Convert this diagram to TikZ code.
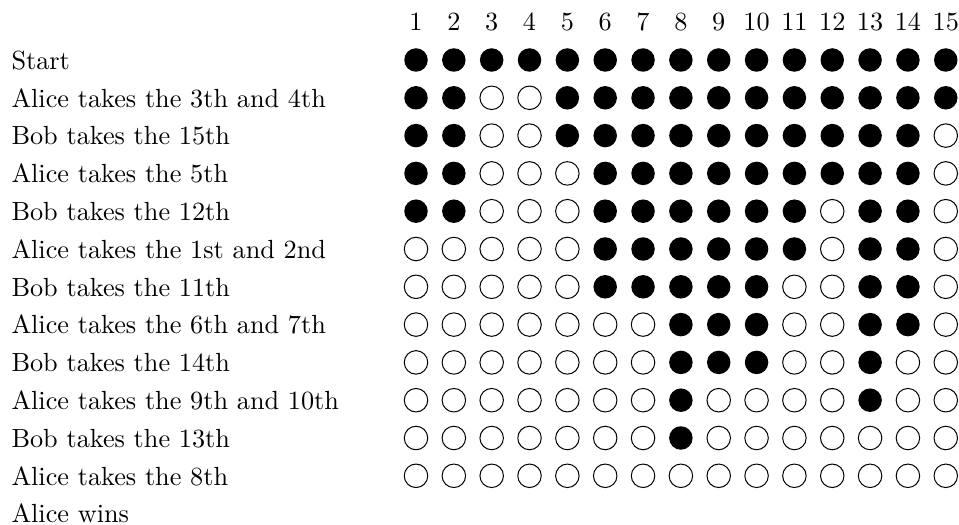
\documentclass[tikz,border=0pt]{standalone}
\usetikzlibrary{positioning}
\tikzset{
  stone/.style={circle, inner sep=0pt, minimum size=9.4pt},
  stone1/.style={stone, fill=black},
  stone0/.style={stone, draw=black, line width=0.4pt},
  movetext/.style={anchor=base west, inner sep=0pt, font=\fontsize{10.5pt}{13pt}\selectfont},
  colnum/.style={anchor=base, inner sep=0pt, font=\fontsize{10.5pt}{13pt}\selectfont}
}
\begin{document}
\begin{tikzpicture}[x=0.4pt, y=-0.4pt]
\useasboundingbox (0,0) rectangle (959,525);
% column numbers
\foreach \c in {1,...,15}
  \node[colnum] (num-\c) at ({416+37.84*(\c-1)},30.7) {\c};
% one row per move
\foreach \lab/\row [count=\r] in {
    Start/{1,1,1,1,1,1,1,1,1,1,1,1,1,1,1},
    Alice takes the 3th and 4th/{1,1,0,0,1,1,1,1,1,1,1,1,1,1,1},
    Bob takes the 15th/{1,1,0,0,1,1,1,1,1,1,1,1,1,1,0},
    Alice takes the 5th/{1,1,0,0,0,1,1,1,1,1,1,1,1,1,0},
    Bob takes the 12th/{1,1,0,0,0,1,1,1,1,1,1,0,1,1,0},
    Alice takes the 1st and 2nd/{0,0,0,0,0,1,1,1,1,1,1,0,1,1,0},
    Bob takes the 11th/{0,0,0,0,0,1,1,1,1,1,0,0,1,1,0},
    Alice takes the 6th and 7th/{0,0,0,0,0,0,0,1,1,1,0,0,1,1,0},
    Bob takes the 14th/{0,0,0,0,0,0,0,1,1,1,0,0,1,0,0},
    Alice takes the 9th and 10th/{0,0,0,0,0,0,0,1,0,0,0,0,1,0,0},
    Bob takes the 13th/{0,0,0,0,0,0,0,1,0,0,0,0,0,0,0},
    Alice takes the 8th/{0,0,0,0,0,0,0,0,0,0,0,0,0,0,0}} {
  \node[movetext] (lab-\r) at (11,{69.3+37.8*(\r-1)}) {\lab};
  \foreach \st [count=\c] in \row
    \node[stone\st] (stone-\r-\c) at ({416+37.84*(\c-1)},{60+37.8*(\r-1)}) {};
}
\node[movetext] (lab-13) at (11,{69.3+37.8*12}) {Alice wins};
\end{tikzpicture}
\end{document}
